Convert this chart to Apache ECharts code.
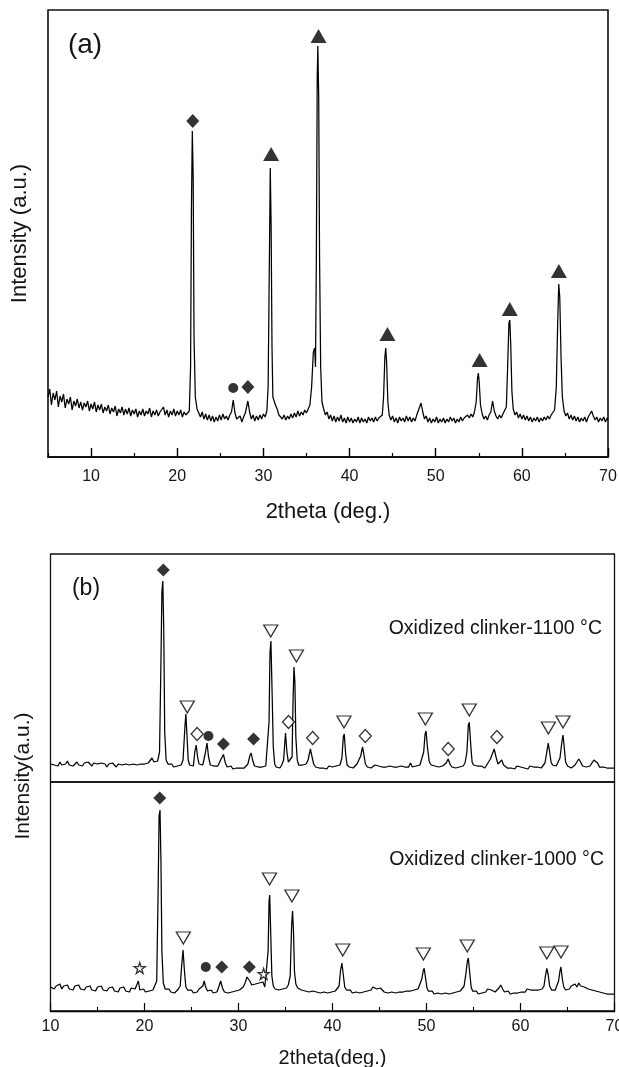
<!DOCTYPE html>
<html><head><meta charset="utf-8">
<script src="https://cdn.jsdelivr.net/npm/echarts@6/dist/echarts.min.js"></script>
<style>html,body{margin:0;padding:0;background:#fff}#c{width:619px;height:1067px}</style>
</head><body><div id="c"></div>
<script>
// ---------- tick labels ----------
const xMajorA = [10,20,30,40,50,60,70];
const xMinorA = [5,15,25,35,45,55,65];
const xMajorB = [10,20,30,40,50,60,70];
const xMinorB = [15,25,35,45,55,65];

// ---------- panel (a) pattern: [2theta, intensity] ----------
const patternA = [
[5.0,60],[5.2,68],[5.4,52],[5.6,64],[5.8,57],[6.0,66],[6.2,50],[6.4,61],[6.6,55],[6.8,63],[7.0,49],[7.2,58],[7.4,53],[7.6,60],[7.8,47],[8.0,56],[8.2,51],[8.4,58],[8.6,49],[8.8,55],
[9.0,47],[9.2,54],[9.4,50],[9.6,56],[9.8,46],[10.0,53],[10.2,48],[10.4,55],[10.6,45],[10.8,52],[11.0,47],[11.2,53],[11.4,44],[11.6,50],[11.8,46],[12.0,52],[12.2,43],[12.4,49],[12.6,45],[12.8,51],
[13.0,41],[13.2,48],[13.4,44],[13.6,50],[13.8,42],[14.0,48],[14.2,43],[14.4,49],[14.6,41],[14.8,47],[15.0,43],[15.2,48],[15.4,40],[15.6,46],[15.8,42],[16.0,48],[16.2,41],[16.4,46],[16.6,43],[16.8,49],
[17.0,40],[17.2,46],[17.4,42],[17.6,47],[17.8,41],[18.0,45],[18.2,43],[18.4,50],[18.6,42],[18.8,47],[19.0,40],[19.2,46],[19.4,42],[19.6,48],[19.8,41],[20.0,46],[20.2,42],[20.4,47],[20.6,40],[20.8,45],
[21.0,42],[21.2,44],[21.4,46],[21.55,90],[21.65,250],[21.75,326],[21.85,280],[21.95,120],[22.1,60],[22.3,48],[22.5,44],[22.7,40],[22.9,45],[23.1,38],[23.3,43],[23.5,37],[23.7,42],[23.9,36],[24.1,41],[24.3,35],
[24.5,40],[24.7,36],[24.9,42],[25.1,37],[25.3,43],[25.5,38],[25.7,41],[25.9,37],[26.1,42],[26.3,45],[26.5,57],[26.7,44],[26.9,38],[27.1,36],[27.3,41],[27.5,35],[27.7,40],[27.9,44],[28.2,56],[28.4,45],
[28.6,38],[28.8,42],[29.0,36],[29.2,41],[29.4,37],[29.6,42],[29.8,38],[30.0,43],[30.2,40],[30.4,46],[30.55,70],[30.7,200],[30.8,289],[30.9,230],[31.0,110],[31.1,60],[31.25,62],[31.4,52],[31.6,48],[31.8,42],
[32.0,44],[32.2,38],[32.4,42],[32.6,37],[32.8,41],[33.0,38],[33.2,43],[33.4,39],[33.6,44],[33.8,40],[34.0,46],[34.2,41],[34.4,45],[34.6,42],[34.8,47],[35.0,44],[35.2,48],[35.4,52],[35.6,70],[35.8,105],
[35.95,109],[36.05,90],[36.15,200],[36.25,380],[36.32,411],[36.42,360],[36.52,200],[36.65,90],[36.8,55],[37.0,48],[37.2,42],[37.4,45],[37.6,38],[37.8,42],[38.0,36],[38.2,41],[38.4,35],[38.6,40],[38.8,36],[39.0,42],
[39.2,35],[39.4,39],[39.6,34],[39.8,40],[40.0,35],[40.2,39],[40.4,34],[40.6,38],[40.8,35],[41.0,40],[41.2,34],[41.4,39],[41.6,35],[41.8,38],[42.0,34],[42.2,40],[42.4,36],[42.6,39],[42.8,35],[43.0,40],
[43.2,36],[43.4,39],[43.6,37],[43.8,42],[43.95,60],[44.1,100],[44.2,109],[44.3,95],[44.45,55],[44.6,42],[44.8,37],[45.0,41],[45.2,35],[45.4,39],[45.6,34],[45.8,40],[46.0,36],[46.2,39],[46.4,35],[46.6,41],
[46.8,36],[47.0,40],[47.2,35],[47.4,39],[47.6,36],[47.8,42],[48.0,44],[48.3,54],[48.5,45],[48.7,38],[48.9,41],[49.1,35],[49.3,39],[49.5,34],[49.7,38],[49.9,35],[50.1,40],[50.3,34],[50.5,38],[50.7,35],
[50.9,39],[51.1,34],[51.3,38],[51.5,35],[51.7,40],[51.9,36],[52.1,39],[52.3,34],[52.5,38],[52.7,35],[52.9,40],[53.1,36],[53.3,39],[53.5,37],[53.7,42],[53.9,39],[54.1,43],[54.3,40],[54.5,45],[54.7,55],
[54.85,78],[54.95,84],[55.05,75],[55.2,52],[55.4,43],[55.6,38],[55.8,41],[56.0,37],[56.2,42],[56.4,45],[56.6,56],[56.8,46],[57.0,41],[57.2,38],[57.4,42],[57.6,39],[57.8,43],[58.0,42],[58.2,50],[58.35,90],
[58.5,134],[58.6,137],[58.7,115],[58.85,65],[59.0,48],[59.2,42],[59.4,45],[59.6,39],[59.8,43],[60.0,38],[60.2,42],[60.4,37],[60.6,41],[60.8,36],[61.0,40],[61.2,35],[61.4,39],[61.6,36],[61.8,40],[62.0,35],
[62.2,39],[62.4,36],[62.6,40],[62.8,37],[63.0,41],[63.2,38],[63.4,42],[63.6,40],[63.8,47],[64.0,70],[64.15,130],[64.28,173],[64.4,160],[64.55,100],[64.7,60],[64.9,46],[65.1,41],[65.3,44],[65.5,38],[65.7,42],
[65.9,37],[66.1,41],[66.3,36],[66.5,40],[66.7,35],[66.9,39],[67.1,36],[67.3,40],[67.5,35],[67.7,40],[67.9,42],[68.1,46],[68.3,41],[68.5,37],[68.7,40],[68.9,35],[69.1,39],[69.3,36],[69.5,40],[69.7,35],
[69.9,39],[70.0,37]
];
// phase markers, panel (a)
const markA_triangle = [[30.9,303],[36.4,421],[44.4,123],[55.1,97],[58.6,148],[64.3,186]];
const markA_diamond  = [[21.8,336],[28.2,70]];
const markA_circle   = [[26.5,69]];

// ---------- panel (b) upper: Oxidized clinker-1100 °C ----------
const pattern1100 = [
[10.0,18],[10.2,20],[10.4,17],[10.6,19],[10.8,16],[11.0,20],[11.2,17],[11.4,19],[11.6,18],[11.8,21],[12.0,17],[12.2,19],[12.4,16],[12.6,18],[12.8,20],[13.0,17],[13.2,19],[13.4,16],[13.6,19],[13.8,17],
[14.0,20],[14.2,18],[14.4,16],[14.6,19],[14.8,17],[15.0,18],[15.2,16],[15.4,19],[15.6,17],[15.8,18],[16.0,15],[16.2,18],[16.4,16],[16.6,19],[16.8,17],[17.0,15],[17.2,18],[17.4,16],[17.6,17],[17.8,15],
[18.0,18],[18.2,16],[18.4,17],[18.6,15],[18.8,18],[19.0,16],[19.2,17],[19.4,15],[19.6,18],[19.8,16],[20.0,18],[20.2,17],[20.4,19],[20.6,18],[20.8,24],[21.0,20],[21.2,19],[21.4,21],[21.6,30],[21.75,120],
[21.85,190],[21.95,201],[22.05,150],[22.15,50],[22.3,22],[22.5,18],[22.7,16],[22.9,18],[23.1,15],[23.3,17],[23.5,16],[23.7,18],[23.9,17],[24.1,22],[24.3,55],[24.4,68],[24.5,50],[24.65,22],[24.8,17],[25.0,19],
[25.2,16],[25.35,30],[25.5,37],[25.65,25],[25.8,18],[26.0,19],[26.2,17],[26.45,28],[26.65,39],[26.8,26],[27.0,17],[27.2,15],[27.4,16],[27.6,14],[27.8,16],[28.0,17],[28.2,24],[28.4,27.5],[28.6,19],[28.8,15],
[29.0,14],[29.2,16],[29.4,13],[29.6,15],[29.8,14],[30.0,16],[30.2,14],[30.4,15],[30.6,14],[30.8,16],[31.0,18],[31.2,26],[31.35,29],[31.5,22],[31.7,16],[31.9,14],[32.1,15],[32.3,13],[32.5,15],[32.7,14],
[32.9,16],[33.1,18],[33.25,60],[33.35,130],[33.45,141],[33.55,100],[33.7,35],[33.85,18],[34.0,15],[34.2,16],[34.4,14],[34.6,17],[34.8,22],[35.0,49],[35.15,30],[35.3,20],[35.5,18],[35.7,25],[35.8,80],[35.9,115],
[36.0,100],[36.1,45],[36.25,22],[36.4,17],[36.6,15],[36.8,17],[37.0,16],[37.2,18],[37.4,22],[37.65,33],[37.85,24],[38.0,18],[38.2,15],[38.4,17],[38.6,14],[38.8,16],[39.0,14],[39.2,15],[39.4,13],[39.6,16],
[39.8,18],[40.0,15],[40.2,14],[40.4,16],[40.6,14],[40.8,17],[41.0,24],[41.15,45],[41.25,48],[41.4,28],[41.55,17],[41.8,15],[42.0,16],[42.2,14],[42.4,15],[42.6,18],[42.8,20],[43.0,26],[43.2,35],[43.35,27],
[43.5,18],[43.7,15],[43.9,16],[44.1,14],[44.3,15],[44.5,17],[44.7,19],[44.9,16],[45.1,14],[45.3,15],[45.5,13],[45.7,15],[45.9,14],[46.1,16],[46.3,14],[46.5,15],[46.7,17],[46.9,15],[47.1,14],[47.3,16],
[47.5,14],[47.7,15],[47.9,16],[48.1,15],[48.3,19],[48.5,15],[48.7,14],[48.9,16],[49.1,15],[49.3,17],[49.5,19],[49.7,30],[49.85,48],[49.95,51],[50.1,35],[50.3,20],[50.5,17],[50.7,15],[50.9,16],[51.1,14],
[51.3,15],[51.5,13],[51.7,16],[51.9,17],[52.1,19],[52.3,23],[52.5,18],[52.7,15],[52.9,16],[53.1,14],[53.3,16],[53.5,15],[53.7,17],[53.9,16],[54.1,19],[54.3,30],[54.45,57],[54.55,59.6],[54.7,38],[54.85,20],
[55.0,17],[55.2,15],[55.4,16],[55.6,14],[55.8,16],[56.0,15],[56.2,14],[56.4,17],[56.6,18],[56.8,23],[57.0,28],[57.2,33],[57.4,25],[57.6,18],[57.8,20],[58.0,22],[58.2,17],[58.4,15],[58.6,14],[58.8,16],
[59.0,14],[59.2,15],[59.4,13],[59.6,16],[59.8,14],[60.0,15],[60.2,16],[60.4,14],[60.6,15],[60.8,13],[61.0,16],[61.2,14],[61.4,15],[61.6,17],[61.8,15],[62.0,16],[62.2,14],[62.4,16],[62.6,19],[62.8,30],
[62.95,39],[63.1,30],[63.25,20],[63.4,17],[63.6,15],[63.8,16],[64.0,18],[64.2,24],[64.4,40],[64.52,47],[64.65,35],[64.8,20],[65.0,16],[65.2,15],[65.4,14],[65.6,16],[65.8,17],[66.0,19],[66.2,23],[66.4,20],
[66.6,16],[66.8,14],[67.0,15],[67.2,14],[67.4,16],[67.6,18],[67.8,22],[68.0,24],[68.2,19],[68.4,15],[68.6,14],[68.8,15],[69.0,13],[69.2,14],[69.4,12],[69.6,14],[69.8,13],[70.0,14]
];
const mark1100_diamond     = [[22.0,212],[28.4,38],[31.6,43]];
const mark1100_circle      = [[26.8,46]];
const mark1100_triDown     = [[24.55,75],[33.43,151],[36.16,126],[41.22,60],[49.88,63],[54.55,72],[62.97,54],[64.52,60]];
const mark1100_openDiamond = [[25.6,48],[35.32,60],[37.89,44],[43.49,46],[52.31,33],[57.49,45]];

// ---------- panel (b) lower: Oxidized clinker-1000 °C ----------
const pattern1000 = [
[10.0,24],[10.2,26],[10.4,22],[10.6,25],[10.8,23],[11.0,27],[11.2,22],[11.4,25],[11.6,23],[11.8,26],[12.0,22],[12.2,24],[12.4,21],[12.6,25],[12.8,23],[13.0,26],[13.2,22],[13.4,24],[13.6,21],[13.8,24],
[14.0,22],[14.2,25],[14.4,21],[14.6,23],[14.8,20],[15.0,24],[15.2,22],[15.4,25],[15.6,21],[15.8,23],[16.0,20],[16.2,23],[16.4,21],[16.6,24],[16.8,20],[17.0,22],[17.2,19],[17.4,23],[17.6,21],[17.8,24],
[18.0,20],[18.2,22],[18.4,19],[18.6,23],[18.8,21],[19.0,22],[19.2,24],[19.35,30],[19.5,21],[19.7,20],[19.9,22],[20.1,19],[20.3,21],[20.5,20],[20.7,22],[20.9,21],[21.1,23],[21.3,30],[21.45,120],[21.55,195],
[21.65,201],[21.75,150],[21.85,60],[22.0,28],[22.2,22],[22.4,20],[22.6,22],[22.8,19],[23.0,21],[23.2,18],[23.4,20],[23.6,22],[23.8,25],[23.95,45],[24.1,61],[24.25,40],[24.4,24],[24.6,21],[24.8,19],[25.0,21],
[25.2,18],[25.4,20],[25.6,19],[25.8,22],[26.0,21],[26.2,25],[26.35,30],[26.5,24],[26.7,20],[26.9,19],[27.1,21],[27.3,18],[27.5,20],[27.7,19],[27.9,24],[28.1,30],[28.3,23],[28.5,19],[28.7,21],[28.9,18],
[29.1,20],[29.3,19],[29.5,21],[29.7,20],[29.9,22],[30.1,21],[30.3,23],[30.5,24],[30.7,28],[30.9,34],[31.05,35.7],[31.2,30],[31.4,26],[31.6,24],[31.8,27],[32.0,25],[32.2,28],[32.4,26],[32.6,29],[32.8,24],
[33.0,25],[33.15,60],[33.25,110],[33.32,116],[33.42,80],[33.55,35],[33.7,25],[33.9,22],[34.1,24],[34.3,21],[34.5,23],[34.7,22],[34.9,24],[35.1,23],[35.3,26],[35.5,35],[35.65,85],[35.75,100],[35.85,80],[35.95,40],
[36.1,27],[36.3,23],[36.5,25],[36.7,21],[36.9,23],[37.1,20],[37.3,22],[37.5,19],[37.7,21],[37.9,20],[38.1,22],[38.3,19],[38.5,21],[38.7,18],[38.9,20],[39.1,19],[39.3,21],[39.5,18],[39.7,20],[39.9,19],
[40.1,21],[40.3,20],[40.5,22],[40.7,25],[40.85,40],[41.0,48],[41.15,36],[41.3,24],[41.5,21],[41.7,19],[41.9,21],[42.1,18],[42.3,20],[42.5,19],[42.7,21],[42.9,18],[43.1,20],[43.3,19],[43.5,21],[43.7,20],
[43.9,22],[44.1,21],[44.3,24],[44.5,26],[44.7,22],[44.9,20],[45.1,23],[45.3,21],[45.5,19],[45.7,20],[45.9,18],[46.1,20],[46.3,19],[46.5,21],[46.7,18],[46.9,20],[47.1,19],[47.3,21],[47.5,19],[47.7,21],
[47.9,20],[48.1,22],[48.3,20],[48.5,22],[48.7,21],[48.9,20],[49.1,22],[49.3,24],[49.5,32],[49.65,40],[49.75,42.7],[49.9,33],[50.05,23],[50.2,20],[50.4,18],[50.6,20],[50.8,17],[51.0,19],[51.2,18],[51.4,20],
[51.6,17],[51.8,19],[52.0,18],[52.2,20],[52.4,17],[52.6,19],[52.8,18],[53.0,20],[53.2,19],[53.4,21],[53.6,20],[53.8,22],[54.0,25],[54.2,38],[54.35,50],[54.45,53],[54.6,38],[54.75,24],[54.9,20],[55.1,18],
[55.3,20],[55.5,17],[55.7,19],[55.9,18],[56.1,20],[56.3,19],[56.5,22],[56.7,24],[56.9,21],[57.1,20],[57.3,19],[57.5,21],[57.7,23],[57.9,26],[58.1,22],[58.3,19],[58.5,18],[58.7,20],[58.9,17],[59.1,19],
[59.3,18],[59.5,20],[59.7,18],[59.9,20],[60.1,19],[60.3,21],[60.5,19],[60.7,22],[60.9,20],[61.1,21],[61.3,23],[61.5,21],[61.7,19],[61.9,21],[62.1,20],[62.3,22],[62.5,25],[62.65,35],[62.8,42.7],[62.95,36],
[63.1,25],[63.3,21],[63.5,19],[63.7,21],[63.9,23],[64.05,30],[64.2,40],[64.3,44],[64.45,32],[64.6,24],[64.8,21],[65.0,23],[65.2,22],[65.4,25],[65.6,23],[65.8,27],[66.0,24],[66.2,28],[66.4,25],[66.6,27],
[66.8,24],[67.0,26],[67.2,22],[67.4,24],[67.6,21],[67.8,22],[68.0,20],[68.2,22],[68.4,19],[68.6,21],[68.8,18],[69.0,20],[69.2,17],[69.4,19],[69.6,17],[69.8,18],[70.0,17]
];
const mark1000_diamond = [[21.62,213],[28.22,44],[31.16,44]];
const mark1000_circle  = [[26.52,44]];
const mark1000_triDown = [[24.13,73],[33.3,132],[35.68,115],[41.09,61],[49.67,57],[54.34,65],[62.8,58],[64.31,59]];
const mark1000_star    = [[19.49,43],[32.67,37]];

// ---------- labels ----------
const panelLabels = ['(a)', '(b)'];
const sampleLabels = ['Oxidized clinker-1100 °C', 'Oxidized clinker-1000 °C'];
const xTitles = ['2theta (deg.)', '2theta(deg.)'];
const yTitles = ['Intensity (a.u.)', 'Intensity(a.u.)'];

// ---------- styling ----------
const FONT = '"Liberation Sans", Arial, Helvetica, sans-serif';
const INK = '#000000';
const TXT = '#141414';
const TRI_DOWN = 'path://M0,0L20,0L10,17Z';
const STAR = 'path://M50,2L61,36L97,36L68,57L79,92L50,71L21,92L32,57L3,36L39,36Z';

function lineSeries(data, xi, yi) {
  return { type: 'line', data, xAxisIndex: xi, yAxisIndex: yi, showSymbol: false, symbol: 'none',
    lineStyle: { color: INK, width: 1.25 }, silent: true, animation: false, z: 2 };
}
function markSeries(data, xi, yi, symbol, size, open) {
  return { type: 'scatter', data, xAxisIndex: xi, yAxisIndex: yi, symbol, symbolSize: size, silent: true,
    animation: false, z: 5,
    itemStyle: open ? { color: '#ffffff', borderColor: INK, borderWidth: 1.3 } : { color: INK } };
}
const axisLineStyle = { color: INK, width: 1.5 };

const chart = echarts.init(document.getElementById('c'), null, { renderer: 'canvas' });
chart.setOption({
  animation: false,
  backgroundColor: '#ffffff',
  grid: [
    { left: 48, top: 10, width: 560, height: 447, show: true, borderColor: '#111', borderWidth: 1.6, backgroundColor: 'transparent', outerBoundsMode: 'none', containLabel: false },
    { left: 50.5, top: 554, width: 564, height: 228, show: true, borderColor: '#111', borderWidth: 1.3, backgroundColor: 'transparent', outerBoundsMode: 'none', containLabel: false },
    { left: 50.5, top: 782, width: 564, height: 229, show: true, borderColor: '#111', borderWidth: 1.3, backgroundColor: 'transparent', outerBoundsMode: 'none', containLabel: false }
  ],
  xAxis: [
    { gridIndex: 0, type: 'value', min: 5, max: 70, position: 'bottom',
      axisLine: { show: true, lineStyle: axisLineStyle },
      axisTick: { show: true, inside: true, length: 9, customValues: xMajorA, lineStyle: { color: INK, width: 1.4 } },
      axisLabel: { show: true, customValues: xMajorA, fontSize: 16, color: TXT, fontFamily: FONT, margin: 12 },
      splitLine: { show: false },
      name: xTitles[0], nameLocation: 'middle', nameGap: 44,
      nameTextStyle: { fontSize: 22, color: TXT, fontFamily: FONT } },
    { gridIndex: 0, type: 'value', min: 5, max: 70, position: 'bottom',
      axisLine: { show: false },
      axisTick: { show: true, inside: true, length: 4, customValues: xMinorA, lineStyle: { color: INK, width: 1.2 } },
      axisLabel: { show: false }, splitLine: { show: false } },
    { gridIndex: 1, type: 'value', min: 10, max: 70, show: false },
    { gridIndex: 2, type: 'value', min: 10, max: 70, position: 'bottom',
      axisLine: { show: true, lineStyle: { color: INK, width: 1.3 } },
      axisTick: { show: true, inside: true, length: 8, customValues: xMajorB, lineStyle: { color: INK, width: 1.2 } },
      axisLabel: { show: true, customValues: xMajorB, fontSize: 16, color: TXT, fontFamily: FONT, margin: 8 },
      splitLine: { show: false },
      name: xTitles[1], nameLocation: 'middle', nameGap: 37,
      nameTextStyle: { fontSize: 20, color: TXT, fontFamily: FONT } },
    { gridIndex: 2, type: 'value', min: 10, max: 70, position: 'bottom',
      axisLine: { show: false },
      axisTick: { show: true, inside: true, length: 4, customValues: xMinorB, lineStyle: { color: INK, width: 1.1 } },
      axisLabel: { show: false }, splitLine: { show: false } }
  ],
  yAxis: [
    { gridIndex: 0, type: 'value', min: 0, max: 447,
      axisLine: { show: false }, axisTick: { show: false }, axisLabel: { show: false }, splitLine: { show: false },
      name: yTitles[0], nameLocation: 'middle', nameGap: 17,
      nameTextStyle: { fontSize: 22, color: TXT, fontFamily: FONT } },
    { gridIndex: 1, type: 'value', min: 0, max: 228, show: false },
    { gridIndex: 2, type: 'value', min: 0, max: 229, show: false }
  ],
  graphic: [
    { type: 'text', x: 85, y: 45, silent: true, style: { text: panelLabels[0], fontSize: 28, fontFamily: FONT, fill: TXT, align: 'center', verticalAlign: 'middle' } },
    { type: 'text', x: 86, y: 589, silent: true, style: { text: panelLabels[1], fontSize: 23, fontFamily: FONT, fill: TXT, align: 'center', verticalAlign: 'middle' } },
    { type: 'text', x: 602, y: 629, silent: true, style: { text: sampleLabels[0], fontSize: 19.5, fontFamily: FONT, fill: TXT, align: 'right', verticalAlign: 'middle' } },
    { type: 'text', x: 604, y: 860, silent: true, style: { text: sampleLabels[1], fontSize: 19.5, fontFamily: FONT, fill: TXT, align: 'right', verticalAlign: 'middle' } },
    { type: 'text', x: 23.5, y: 776, rotation: Math.PI / 2, silent: true, style: { text: yTitles[1], fontSize: 21, fontFamily: FONT, fill: TXT, align: 'center', verticalAlign: 'middle' } }
  ],
  series: [
    lineSeries(patternA, 0, 0),
    lineSeries(pattern1100, 2, 1),
    lineSeries(pattern1000, 3, 2),
    markSeries(markA_triangle, 0, 0, 'triangle', [16, 14], false),
    markSeries(markA_diamond, 0, 0, 'diamond', [13, 14], false),
    markSeries(markA_circle, 0, 0, 'circle', 10, false),
    markSeries(mark1100_diamond, 2, 1, 'diamond', [13, 13], false),
    markSeries(mark1100_circle, 2, 1, 'circle', 10, false),
    markSeries(mark1100_triDown, 2, 1, TRI_DOWN, [14, 12], true),
    markSeries(mark1100_openDiamond, 2, 1, 'diamond', [12, 13], true),
    markSeries(mark1000_diamond, 3, 2, 'diamond', [13, 13], false),
    markSeries(mark1000_circle, 3, 2, 'circle', 10, false),
    markSeries(mark1000_triDown, 3, 2, TRI_DOWN, [14, 12], true),
    markSeries(mark1000_star, 3, 2, STAR, 11, true)
  ]
});
</script>
</body></html>
